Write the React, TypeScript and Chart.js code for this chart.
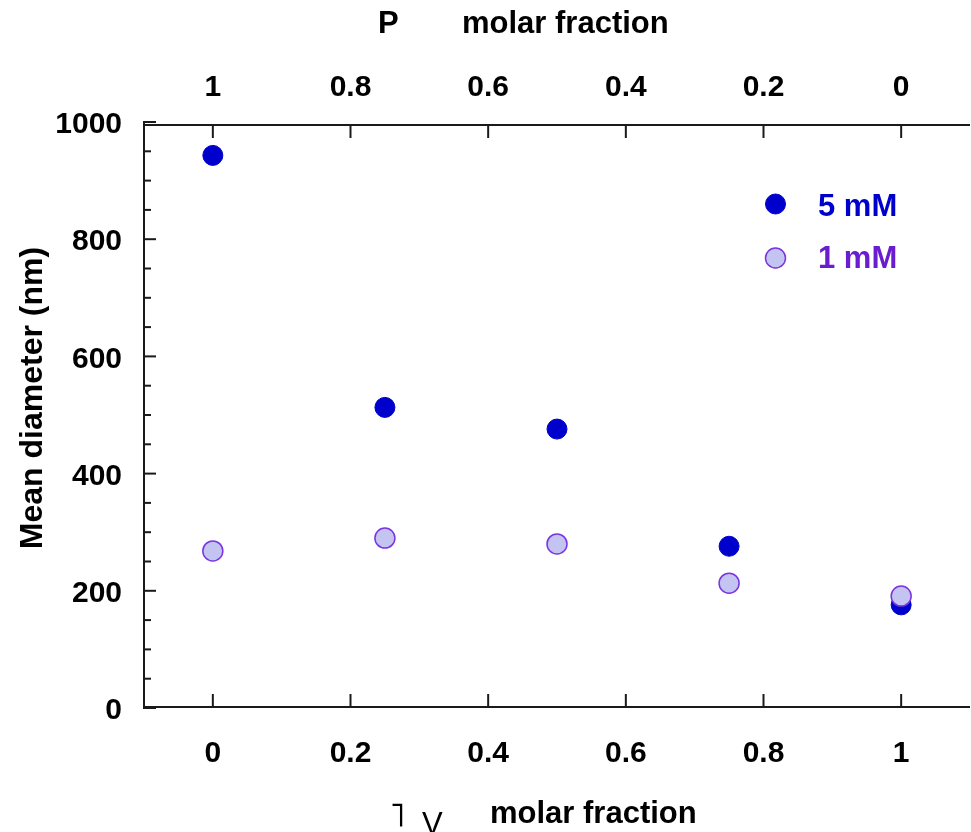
import React, { useEffect, useRef } from "react";
import { Chart, registerables } from "chart.js";

Chart.register(...registerables);

// ---- data ----
const xValues = [0, 0.25, 0.5, 0.75, 1];
const series5mM = [943, 513, 476, 276, 176];
const series1mM = [268, 290, 280, 213, 191];
const seriesLabels = ["5 mM", "1 mM"];

const xTicks = [0, 0.2, 0.4, 0.6, 0.8, 1];
const xTickLabels = ["0", "0.2", "0.4", "0.6", "0.8", "1"];
const topTickLabels = ["1", "0.8", "0.6", "0.4", "0.2", "0"];
const yTicks = [0, 200, 400, 600, 800, 1000];
const yTickLabels = ["0", "200", "400", "600", "800", "1000"];
const yMinorTicks = [50, 100, 150, 250, 300, 350, 450, 500, 550, 650, 700, 750, 850, 900, 950];

const topTitleP = "P";
const topTitleRest = "molar fraction";
const bottomTitleA = "\u02E5";
const bottomTitleV = "V";
const bottomTitleRest = "molar fraction";
const yTitle = "Mean diameter (nm)";

const FONT = '"Liberation Sans", Arial, Helvetica, sans-serif';
const AXIS_COLOR = "#1a1a1a";

const axesPlugin = {
  id: "customAxes",
  afterLayout(chart: any) {
    // stretch the plot area to the right edge of the canvas
    const right = chart.width - 1;
    chart.chartArea.right = right;
    chart.chartArea.width = right - chart.chartArea.left;
    ["x", "x2"].forEach((id) => {
      const s = chart.scales[id];
      s.right = right;
      s.width = right - s.left;
      s.configure();
    });
  },
  beforeDatasetsDraw(chart: any) {
    const { ctx, chartArea: a, scales } = chart;
    const x = scales.x;
    const y = scales.y;
    const y0 = y.getPixelForValue(0);
    const yTop = y.getPixelForValue(1000);
    ctx.save();
    ctx.strokeStyle = AXIS_COLOR;
    ctx.lineWidth = 2;
    const line = (x1: number, y1: number, x2: number, y2: number) => {
      ctx.beginPath();
      ctx.moveTo(x1, y1);
      ctx.lineTo(x2, y2);
      ctx.stroke();
    };
    const bottom = y0 - 1;
    const top = a.top + 3;
    // axis lines
    line(a.left, yTop - 1, a.left, y0 + 1);
    line(a.left - 1, bottom, a.right, bottom);
    line(a.left - 1, top, a.right, top);
    // y ticks
    yTicks.forEach((v) => {
      const p = y.getPixelForValue(v);
      line(a.left, p, a.left + 12, p);
    });
    yMinorTicks.forEach((v) => {
      const p = y.getPixelForValue(v);
      line(a.left, p, a.left + 7, p);
    });
    // x ticks
    xTicks.forEach((v) => {
      const p = x.getPixelForValue(v);
      line(p, bottom, p, bottom - 13);
      line(p, top, p, top + 13);
    });
    ctx.restore();
  },
  afterDatasetsDraw(chart: any) {
    const { ctx } = chart;
    ctx.save();
    // legend
    const ds = chart.data.datasets;
    const items = [
      { ds: ds[0], cy: 204, base: 216, color: "#0000cc" },
      { ds: ds[1], cy: 258, base: 268, color: "#6a1ccf" },
    ];
    items.forEach((it) => {
      ctx.beginPath();
      ctx.arc(775.5, it.cy, 10, 0, Math.PI * 2);
      ctx.fillStyle = it.ds.backgroundColor;
      ctx.fill();
      ctx.lineWidth = it.ds.borderWidth;
      ctx.strokeStyle = it.ds.borderColor;
      ctx.stroke();
      ctx.font = `bold 31px ${FONT}`;
      ctx.fillStyle = it.color;
      ctx.textAlign = "left";
      ctx.textBaseline = "alphabetic";
      ctx.fillText(it.ds.label, 818, it.base);
    });

    // titles
    ctx.fillStyle = "#000";
    ctx.textAlign = "left";
    ctx.textBaseline = "alphabetic";
    ctx.font = `bold 31px ${FONT}`;
    ctx.fillText(topTitleP, 378, 33);
    ctx.fillText(topTitleRest, 462, 33);

    ctx.fillText(bottomTitleRest, 490, 823);
    ctx.font = `34px "DejaVu Sans", sans-serif`;
    ctx.fillText(bottomTitleA, 389, 826);
    ctx.font = `31px ${FONT}`;
    ctx.fillText(bottomTitleV, 422, 834);

    // y title
    ctx.save();
    ctx.translate(42, 398);
    ctx.rotate(-Math.PI / 2);
    ctx.textAlign = "center";
    ctx.font = `bold 32px ${FONT}`;
    ctx.fillText(yTitle, 0, 0);
    ctx.restore();

    ctx.restore();
  },
};

const noPad = (s: any) => {
  s.paddingLeft = 0;
  s.paddingRight = 0;
  s.paddingTop = 0;
  s.paddingBottom = 0;
};

export default function App() {
  const ref = useRef<HTMLCanvasElement>(null);

  useEffect(() => {
    if (!ref.current) return;
    const tickFont = { family: FONT, size: 30, weight: "bold" as const };
    const chart = new Chart(ref.current, {
      type: "scatter",
      data: {
        datasets: [
          {
            label: seriesLabels[0],
            data: xValues.map((x, i) => ({ x, y: series5mM[i] })),
            backgroundColor: "#0000cc",
            borderColor: "#0000cc",
            borderWidth: 1,
            pointRadius: 10,
            pointHoverRadius: 10,
            order: 1,
          },
          {
            label: seriesLabels[1],
            data: xValues.map((x, i) => ({ x, y: series1mM[i] })),
            backgroundColor: "#c4c4f2",
            borderColor: "#7a35e0",
            borderWidth: 1.5,
            pointRadius: 10,
            pointHoverRadius: 10,
            order: 0,
          },
        ],
      },
      options: {
        responsive: false,
        animation: false,
        devicePixelRatio: 1,
        layout: { padding: { left: 0, right: 1, top: 0, bottom: 0 } },
        plugins: {
          legend: { display: false },
          title: { display: false },
          tooltip: { enabled: false },
        },
        scales: {
          x: {
            type: "linear",
            position: "bottom",
            min: -0.1,
            max: 1.1,
            grid: { display: false },
            border: { display: false },
            ticks: {
              padding: 20,
              font: tickFont,
              color: "#000",
              maxRotation: 0,
              callback: (_v: any, i: number) => xTickLabels[i],
            },
            afterBuildTicks: (s: any) => {
              s.ticks = xTicks.map((v) => ({ value: v }));
            },
            afterFit: (s: any) => {
              s.height = 124;
              noPad(s);
            },
          },
          x2: {
            type: "linear",
            position: "top",
            display: true,
            min: -0.1,
            max: 1.1,
            grid: { display: false },
            border: { display: false },
            ticks: {
              padding: 8,
              font: tickFont,
              color: "#000",
              maxRotation: 0,
              callback: (_v: any, i: number) => topTickLabels[i],
            },
            afterBuildTicks: (s: any) => {
              s.ticks = xTicks.map((v) => ({ value: v }));
            },
            afterFit: (s: any) => {
              s.height = 122;
              noPad(s);
            },
          },
          y: {
            type: "linear",
            min: 0,
            max: 1000,
            grid: { display: false },
            border: { display: false },
            ticks: {
              padding: 14,
              labelOffset: 3,
              font: tickFont,
              color: "#000",
              callback: (_v: any, i: number) => yTickLabels[i],
            },
            afterBuildTicks: (s: any) => {
              s.ticks = yTicks.map((v) => ({ value: v }));
            },
            afterFit: (s: any) => {
              s.width = 144;
              noPad(s);
            },
          },
        },
      },
      plugins: [axesPlugin],
    } as any);
    return () => chart.destroy();
  }, []);

  return (
    <div style={{ position: "fixed", left: 0, top: 0, width: 971, height: 832, background: "#fff" }}>
      <canvas ref={ref} width={971} height={832} style={{ display: "block" }} />
    </div>
  );
}
